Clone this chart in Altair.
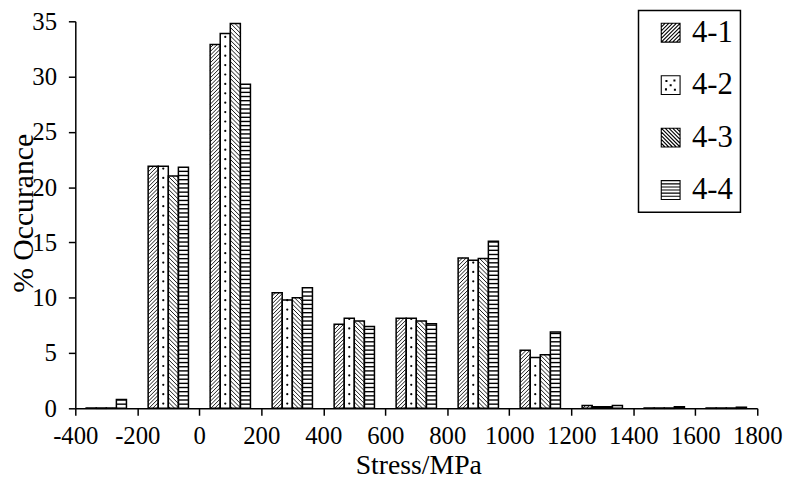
import altair as alt
import pandas as pd

# ---- data ----
centers = [-300, -100, 100, 300, 500, 700, 900, 1100, 1300, 1500, 1700]
series_names = ["4-1", "4-2", "4-3", "4-4"]
s41 = [0.03, 21.9, 32.9, 10.45, 7.6, 8.15, 13.6, 5.25, 0.25, 0.03, 0.03]
s42 = [0.03, 21.9, 33.9, 9.8, 8.15, 8.15, 13.4, 4.6, 0.15, 0.03, 0.03]
s43 = [0.03, 21.0, 34.8, 10.0, 7.9, 7.9, 13.55, 4.85, 0.15, 0.03, 0.03]
s44 = [0.8, 21.8, 29.3, 10.9, 7.4, 7.65, 15.1, 6.9, 0.25, 0.15, 0.1]
x_ticks = list(range(-400, 1801, 200))
y_ticks = list(range(0, 36, 5))

rows = []
for i, (name, vals) in enumerate(zip(series_names, [s41, s42, s43, s44])):
    for c, v in zip(centers, vals):
        rows.append({"center": c, "series": name, "idx": i, "value": v})
df = pd.DataFrame(rows)

# ---- geometry / style constants ----
W, H = 689, 391
XMIN, XMAX, YMAX = -400, 1800, 35
SX = W / (XMAX - XMIN)   # px per x unit
SY = H / YMAX            # px per y unit
BW = 32.5                # bar width in x units
WPX = BW * SX            # bar width in px
D1 = 3.8                 # vertical spacing (px) of "/" hatch
D3 = 4.3                 # vertical spacing (px) of "\" hatch
D4 = 4.2                 # spacing (px) of horizontal hatch
DD = 9.5                 # spacing (px) of dots
FONT = "Liberation Serif"

x_scale = alt.Scale(domain=[XMIN, XMAX], nice=False, zero=False)
y_scale = alt.Scale(domain=[0, YMAX], nice=False, zero=True)

x_axis = alt.Axis(values=x_ticks, title="Stress/MPa", grid=False, labelFlush=False,
                  labelExpr="'' + datum.value",
                  tickSize=7, labelPadding=9, titleX=W / 2 + 2, titleY=66,
                  titleBaseline="alphabetic", titleAlign="center", titleFontSize=28)
y_axis = alt.Axis(values=y_ticks, title="% Occurance", grid=False, labelFlush=False,
                  tickSize=7, labelPadding=12, titleX=-43, titleY=H / 2 - 2,
                  titleAngle=270, titleBaseline="alphabetic", titleAlign="center",
                  titleFontSize=30)


def X(f):
    return alt.X(f"{f}:Q", scale=x_scale, axis=x_axis)


def Y(f):
    return alt.Y(f"{f}:Q", scale=y_scale, axis=y_axis)


base = alt.Chart(df).transform_calculate(
    xs=f"datum.center + {BW} * (datum.idx - 2)",
    xe=f"datum.center + {BW} * (datum.idx - 1)",
)

# "/" hatch for 4-1
h41 = (
    base.transform_filter("datum.series == '4-1'")
    .transform_calculate(hpx=f"datum.value * {SY}")
    .transform_calculate(ks=f"sequence({-WPX + D1 / 2}, datum.hpx, {D1})")
    .transform_flatten(["ks"])
    .transform_calculate(a0="max(0, -datum.ks)", a1=f"min({WPX}, datum.hpx - datum.ks)")
    .transform_filter("datum.a1 > datum.a0")
    .transform_calculate(
        X0=f"datum.xs + datum.a0 / {SX}",
        X1=f"datum.xs + datum.a1 / {SX}",
        Y0=f"(datum.a0 + datum.ks) / {SY}",
        Y1=f"(datum.a1 + datum.ks) / {SY}",
    )
    .mark_rule(color="black", strokeWidth=0.9)
    .encode(x=X("X0"), x2="X1:Q", y=Y("Y0"), y2="Y1:Q")
)

# "\" hatch for 4-3
h43 = (
    base.transform_filter("datum.series == '4-3'")
    .transform_calculate(hpx=f"datum.value * {SY}")
    .transform_calculate(ks=f"sequence({D3 / 2}, datum.hpx + {WPX}, {D3})")
    .transform_flatten(["ks"])
    .transform_calculate(a0="max(0, datum.ks - datum.hpx)", a1=f"min({WPX}, datum.ks)")
    .transform_filter("datum.a1 > datum.a0")
    .transform_calculate(
        X0=f"datum.xs + datum.a0 / {SX}",
        X1=f"datum.xs + datum.a1 / {SX}",
        Y0=f"(datum.ks - datum.a0) / {SY}",
        Y1=f"(datum.ks - datum.a1) / {SY}",
    )
    .mark_rule(color="black", strokeWidth=0.9)
    .encode(x=X("X0"), x2="X1:Q", y=Y("Y0"), y2="Y1:Q")
)

# horizontal hatch for 4-4
h44 = (
    base.transform_filter("datum.series == '4-4'")
    .transform_calculate(ys=f"sequence({D4 / SY}, datum.value, {D4 / SY})")
    .transform_flatten(["ys"])
    .mark_rule(color="black", strokeWidth=1.4)
    .encode(x=X("xs"), x2="xe:Q", y=Y("ys"))
)

# dots for 4-2
h42 = (
    base.transform_filter("datum.series == '4-2'")
    .transform_calculate(ys=f"sequence({DD / 2 / SY}, datum.value, {DD / SY})",
                         xm="(datum.xs + datum.xe) / 2")
    .transform_flatten(["ys"])
    .mark_circle(color="black", size=5, opacity=1)
    .encode(x=X("xm"), y=Y("ys"))
)

outline = base.mark_rect(fill="white", fillOpacity=0, stroke="black", strokeWidth=1.5).encode(
    x=X("xs"), x2="xe:Q", y=Y("value"), y2=alt.datum(0)
)


# ---- legend swatch shapes (hatched squares as SVG paths) ----
def f(v):
    return f"{v:.3f}"


def seg(x0, y0, x1, y1):
    return f"M{f(x0)},{f(y0)}L{f(x1)},{f(y1)}"


square = "M-1,-1L1,-1L1,1L-1,1Z"
cs = [-1.6, -1.2, -0.8, -0.4, 0.0, 0.4, 0.8, 1.2, 1.6]
p41 = square
for c in cs:
    if c >= 0:
        p41 += seg(c - 1, 1, 1, c - 1)
    else:
        p41 += seg(-1, c + 1, c + 1, -1)
p43 = square
for c in cs:
    if c >= 0:
        p43 += seg(-1 + c, -1, 1, 1 - c)
    else:
        p43 += seg(-1, -1 - c, 1 + c, 1)
p42 = square
for (dx, dy) in [(-0.45, -0.45), (0.4, -0.5), (0.0, 0.0), (-0.5, 0.45), (0.45, 0.5)]:
    p42 += f"M{f(dx - 0.05)},{f(dy - 0.05)}h0.1v0.1h-0.1Z"
p44 = square
for yy in [-0.66, -0.33, 0.0, 0.33, 0.66]:
    p44 += seg(-1, yy, 1, yy)

# helper layer only feeding the legend; its points sit outside the drawing
legend_layer = (
    alt.Chart(df)
    .mark_point(filled=False, color="black", opacity=1, strokeWidth=1.1)
    .encode(
        x=alt.value(-2000),
        y=alt.value(-2000),
        shape=alt.Shape(
            "series:N",
            scale=alt.Scale(domain=series_names, range=[p41, p42, p43, p44]),
            legend=alt.Legend(
                title=None, orient="none", legendX=569, legendY=-11,
                direction="vertical", padding=7, rowPadding=21,
                symbolSize=361, symbolStrokeWidth=1.1, symbolOffset=10,
                symbolStrokeColor="black", symbolOpacity=1,
                labelFont=FONT, labelFontSize=31, labelColor="black", labelOffset=6,
                strokeColor="black", fillColor="white",
            ),
        ),
    )
)

chart = (
    alt.layer(h41, h43, h44, h42, outline, legend_layer)
    .properties(
        width=W, height=H,
        autosize=alt.AutoSizeParams(type="none"),
        padding={"left": 68, "top": 11, "right": 27, "bottom": 71},
    )
    .configure_view(stroke=None)
    .configure_axis(
        domainColor="black", domainWidth=1.5, tickColor="black", tickWidth=1.5,
        labelFont=FONT, labelFontSize=25, labelColor="black",
        titleFont=FONT, titleColor="black", titleFontWeight="normal",
    )
    .configure_legend(strokeWidth=1.5)
)

chart.save("out.html", embed_options={"renderer": "svg", "actions": False})
